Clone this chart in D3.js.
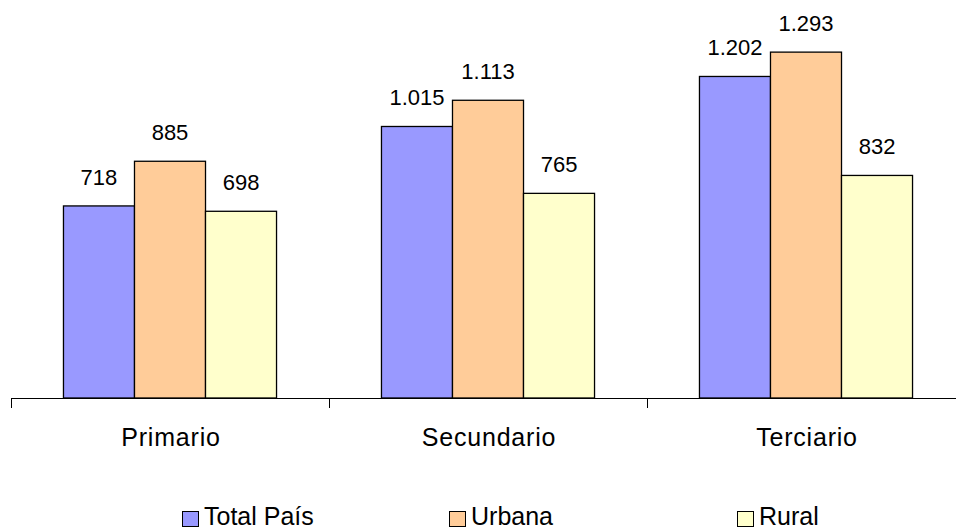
<!DOCTYPE html>
<html><head><meta charset="utf-8">
<script src="https://cdn.jsdelivr.net/npm/d3@7"></script>
<style>body{margin:0;background:#fff}svg{display:block;font-family:"Liberation Sans",Arial,sans-serif}</style>
</head><body>
<svg id="c" width="956" height="529"></svg>
<script>
const categories = ["Primario", "Secundario", "Terciario"];
const seriesNames = ["Total País", "Urbana", "Rural"];
const totalPais = [718, 1015, 1202];
const urbana = [885, 1113, 1293];
const rural = [698, 765, 832];
const valueLabels = [["718","1.015","1.202"],["885","1.113","1.293"],["698","765","832"]];
const colors = ["#9999FF", "#FFCC99", "#FFFFCC"];
const yDomain = [0, 1400];

const seriesValues = [totalPais, urbana, rural];
const svg = d3.select("#c");
const baseY = 398;
const x0 = d3.scaleBand().domain(categories).range([11, 965]).padding(0);
const bw = x0.bandwidth();
const groupW = bw * 0.67;
const x1 = d3.scaleBand().domain(seriesNames).range([(bw - groupW) / 2, (bw + groupW) / 2]);
const y = d3.scaleLinear().domain(yDomain).range([baseY, baseY - 1400 * 0.2675]);

// bars
seriesNames.forEach((s, si) => {
  const g = svg.append("g");
  g.selectAll("rect").data(categories).enter().append("rect")
    .attr("x", c => x0(c) + x1(s))
    .attr("y", (c, ci) => y(seriesValues[si][ci]))
    .attr("width", x1.bandwidth())
    .attr("height", (c, ci) => y(0) - y(seriesValues[si][ci]))
    .attr("fill", colors[si])
    .attr("stroke", "#000")
    .attr("stroke-width", 1.3);
  g.selectAll("text").data(categories).enter().append("text")
    .attr("x", c => x0(c) + x1(s) + x1.bandwidth() / 2)
    .attr("y", (c, ci) => y(seriesValues[si][ci]) - 21)
    .attr("text-anchor", "middle")
    .attr("font-size", 22)
    .attr("fill", "#000")
    .text((c, ci) => valueLabels[si][ci]);
});

// x axis
const ax = svg.append("g");
ax.append("line").attr("x1", x0.range()[0]).attr("x2", x0.range()[1])
  .attr("y1", baseY + 0.5).attr("y2", baseY + 0.5).attr("stroke", "#000").attr("stroke-width", 1);
const tickXs = categories.map(c => x0(c)).concat([x0.range()[1]]);
ax.selectAll("line.t").data(tickXs).enter().append("line").attr("class", "t")
  .attr("x1", d => Math.round(d) + 0.5).attr("x2", d => Math.round(d) + 0.5)
  .attr("y1", baseY).attr("y2", baseY + 10).attr("stroke", "#000");
ax.selectAll("text").data(categories).enter().append("text")
  .attr("x", c => x0(c) + bw / 2 + 1)
  .attr("y", 446)
  .attr("text-anchor", "middle")
  .attr("font-size", 25)
  .attr("letter-spacing", 0.8)
  .text(c => c);

// legend
const legendX = [182, 449, 737];
const lg = svg.append("g");
seriesNames.forEach((s, i) => {
  lg.append("rect").attr("x", legendX[i] + 0.5).attr("y", 511.5).attr("width", 16).attr("height", 15)
    .attr("fill", colors[i]).attr("stroke", "#000").attr("stroke-width", 1);
  lg.append("text").attr("x", legendX[i] + 22).attr("y", 525).attr("font-size", 25).text(s);
});
</script>
</body></html>
